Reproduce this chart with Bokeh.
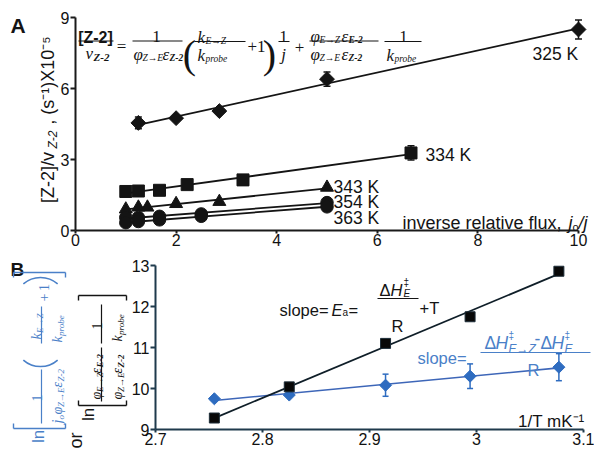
import numpy as np
from math import pi
from bokeh.plotting import figure
from bokeh.models import (Label, Arrow, Range1d, FixedTicker, Whisker, TeeHead,
                          ColumnDataSource, CustomJSTickFormatter)
from bokeh.layouts import column
from bokeh.embed import file_html
from bokeh.resources import INLINE

# ---------------- data: panel A ----------------
x325 = [1.25, 2.0, 2.86, 5.0, 10.0]
y325 = [4.55, 4.75, 5.05, 6.4, 8.5]
e325 = [0.25, 0.0, 0.0, 0.3, 0.4]
x334 = [1.0, 1.25, 1.67, 2.22, 3.33, 6.67]
y334 = [1.65, 1.67, 1.7, 1.94, 2.14, 3.28]
e334 = [0.0, 0.0, 0.0, 0.0, 0.0, 0.3]
x343 = [1.0, 1.25, 1.43, 2.0, 2.86, 5.0]
y343 = [0.9, 0.98, 0.98, 1.13, 1.22, 1.82]
x354 = [1.0, 1.25, 1.67, 2.5, 5.0]
y354 = [0.55, 0.55, 0.6, 0.7, 1.18]
x363 = [1.0, 1.25, 1.67, 2.5, 5.0]
y363 = [0.33, 0.38, 0.45, 0.6, 1.0]
temps_A = ["325 K", "334 K", "343 K", "354 K", "363 K"]
xticks_A = [0, 2, 4, 6, 8, 10]
yticks_A = [0, 3, 6, 9]

# ---------------- data: panel B ----------------
invT = [2.755, 2.825, 2.915, 2.994, 3.077]
lnE = [9.28, 10.04, 11.1, 11.75, 12.86]
lnEZ = [9.75, 9.84, 10.08, 10.3, 10.52]
errEZ = [0.0, 0.0, 0.27, 0.3, 0.33]
xticks_B = [2.7, 2.8, 2.9, 3.0, 3.1]
yticks_B = [9, 10, 11, 12, 13]

SANS = "Liberation Sans"
SERIF = "Liberation Serif"
BLACK = "#141414"
AXA = "#1a1a1a"
AXB = "#1f3a4c"
BLUE_M = "#2e6cc0"
BLUE_L = "#3d66b8"
BLUE_T = "#4a80c8"

W = 594
H = 450
SPLIT = 252          # page row where panel A's canvas ends
HA = SPLIT
HB = H - SPLIT
B_ZERO = 429         # page row of panel B's y = 9 line
B_PX = 41.0          # panel B pixels per y unit


# page-pixel -> data mappings (panel A and panel B)
def ax(xr):
    return (xr - 75) / 50.3


def ay(yr):
    return (230 - yr) / 23.65


def bx(xr):
    return 2.7 + (xr - 155) / 1070


def by(yr):
    return 9 + (B_ZERO - yr) / B_PX


def base_fig(w, h, xr, yr):
    p = figure(width=w, height=h, x_range=Range1d(*xr), y_range=Range1d(*yr),
               output_backend="svg", toolbar_location=None,
               min_border_left=0, min_border_right=0,
               min_border_top=0, min_border_bottom=0)
    p.grid.visible = False
    p.outline_line_color = None
    p.background_fill_color = "white"
    p.border_fill_color = "white"
    return p


def style_axis(axis, color, size, tick_out, standoff):
    axis.axis_line_width = 2
    axis.axis_line_color = color
    axis.major_tick_line_color = color
    axis.major_tick_line_width = 2
    axis.major_tick_out = tick_out
    axis.major_tick_in = 0
    axis.minor_tick_line_color = None
    axis.major_label_text_font = SANS
    axis.major_label_text_font_size = size
    axis.major_label_text_color = "#111111"
    axis.major_label_standoff = standoff


def txt(p, x, y, s, size, font=SANS, style="normal", color=BLACK,
        align="left", baseline="alphabetic", angle=0.0):
    p.add_layout(Label(x=x, y=y, text=s, text_font=font,
                       text_font_size=f"{size:.1f}px",
                       text_font_style=style, text_color=color,
                       text_align=align, text_baseline=baseline, angle=angle))


def seg(p, x0, y0, x1, y1, color, width=1.2):
    p.add_layout(Arrow(end=None, x_start=x0, y_start=y0, x_end=x1, y_end=y1,
                       line_color=color, line_width=width))


def fit_line(p, xs, ys, color, width):
    k, b = np.polyfit(xs, ys, 1)
    x0, x1 = min(xs), max(xs)
    p.line([x0, x1], [k * x0 + b, k * x1 + b], line_color=color, line_width=width)


def whisk(p, xs, ys, es, color, head):
    keep = [i for i, e in enumerate(es) if e > 0]
    src = ColumnDataSource(dict(base=[xs[i] for i in keep],
                                upper=[ys[i] + es[i] for i in keep],
                                lower=[ys[i] - es[i] for i in keep]))
    p.add_layout(Whisker(source=src, base="base", upper="upper", lower="lower",
                         line_color=color, line_width=1.5,
                         upper_head=TeeHead(size=head, line_color=color, line_width=1.5),
                         lower_head=TeeHead(size=head, line_color=color, line_width=1.5)))


# ====================== PANEL A ======================
pA = base_fig(W, HA, (ax(0), ax(W)), (ay(HA), ay(0)))
style_axis(pA.xaxis[0], AXA, "16px", 3, 0)
style_axis(pA.yaxis[0], AXA, "16px", 5, 1)
pA.xaxis.ticker = FixedTicker(ticks=xticks_A)
pA.yaxis.ticker = FixedTicker(ticks=yticks_A)
pA.xaxis.bounds = (0, 10)
pA.yaxis.bounds = (0, 9)
pA.xaxis.fixed_location = 0
pA.yaxis.fixed_location = 0

for xs, ys in [(x325, y325), (x334, y334), (x343, y343), (x354, y354), (x363, y363)]:
    fit_line(pA, xs, ys, BLACK, 1.8)
whisk(pA, x325, y325, e325, BLACK, 7)
whisk(pA, x334, y334, e334, BLACK, 7)
pA.scatter(x325, y325, marker="square", angle=pi / 4, size=10.5, color=BLACK)
pA.scatter(x334, y334, marker="square", size=12, color=BLACK)
pA.scatter(x343, y343, marker="triangle", size=13, color=BLACK)
pA.scatter(x354, y354, marker="circle", size=12.5, color=BLACK)
pA.scatter(x363, y363, marker="circle", size=12.5, color=BLACK)

lab_pos = [(532, 53), (425, 154), (333, 186), (333, 201), (333, 217)]
for t, (xr, yr) in zip(temps_A, lab_pos):
    txt(pA, ax(xr), ay(yr), t, 17.5, baseline="middle")

# x-axis title
txt(pA, ax(566), ay(222), "inverse relative flux, ", 18, align="right")
txt(pA, ax(568), ay(222), "j", 18, style="italic")
txt(pA, ax(572), ay(226), "o", 11)
txt(pA, ax(578), ay(222), "/j", 18, style="italic")

# y-axis title (rotated)
txt(pA, ax(47), ay(177), "[Z-2]/v", 18, align="center", baseline="middle", angle=pi / 2)
txt(pA, ax(52), ay(139), "Z-2", 12, style="italic", align="center", baseline="middle", angle=pi / 2)
txt(pA, ax(47), ay(80), ", (s⁻¹)X10⁻⁵", 18, align="center", baseline="middle", angle=pi / 2)

# panel letter
txt(pA, ax(10), ay(25), "A", 21, style="bold")

# formula
FA = 17
FS = 9.5


def tA(xr, yr, s, size=FA, font=SERIF, style="italic", align="left"):
    txt(pA, ax(xr), ay(yr), s, size, font=font, style=style, align=align)


def lA(x0, x1, yr):
    seg(pA, ax(x0), ay(yr), ax(x1), ay(yr), BLACK, 1.2)


tA(95, 37, "[Z-2]", 16, font=SANS, style="bold", align="center")
lA(78, 113, 40.5)
tA(85, 53, "v")
tA(93, 56, "Z-2", 11, style="bold italic")
tA(121, 46, "=", style="normal", align="center")
tA(156, 36, "1", style="normal", align="center")
lA(132, 182, 40.5)
tA(133, 54, "φ")
tA(142, 57, "Z→E", FS)
tA(162, 54, "ε")
tA(169, 57, "Z-2", FS, style="bold italic")
tA(189, 54, "(", 40, style="normal", align="center")
tA(197, 37, "k")
tA(205, 40, "E→Z", FS)
lA(194, 245, 41)
tA(197, 55, "k")
tA(205, 58, "probe", FS)
tA(247, 46, "+1", style="normal")
tA(269, 54, ")", 40, style="normal", align="center")
tA(283, 36, "1", style="normal", align="center")
lA(278, 289, 41)
tA(283, 54, "j", align="center")
tA(299, 47, "+", style="normal", align="center")
tA(310, 36, "φ")
tA(319, 39, "E→Z", FS)
tA(341, 36, "ε")
tA(348, 39, "E-2", FS, style="bold italic")
lA(309, 378, 40.5)
tA(310, 54, "φ")
tA(319, 57, "Z→E", FS)
tA(341, 54, "ε")
tA(348, 57, "Z-2", FS, style="bold italic")
tA(403, 36, "1", style="normal", align="center")
lA(384, 421, 41)
tA(386, 55, "k")
tA(394, 58, "probe", FS)

# ====================== PANEL B ======================
pB = base_fig(W, HB, (bx(0), bx(W)), (by(H), by(SPLIT)))
style_axis(pB.xaxis[0], AXB, "16px", 3, 0)
style_axis(pB.yaxis[0], AXB, "16px", 5, 1)
pB.xaxis.ticker = FixedTicker(ticks=xticks_B)
pB.yaxis.ticker = FixedTicker(ticks=yticks_B)
pB.xaxis.bounds = (2.7, 3.1)
pB.yaxis.bounds = (9, 13)
pB.xaxis.fixed_location = 9
pB.yaxis.fixed_location = 2.7
pB.xaxis.formatter = CustomJSTickFormatter(code="return (Math.round(tick*10)/10).toString();")

fit_line(pB, invT, lnEZ, BLUE_L, 1.6)
fit_line(pB, invT, lnE, "#0f1e28", 1.8)
whisk(pB, invT, lnEZ, errEZ, BLUE_M, 6)
pB.scatter(invT, lnEZ, marker="square", angle=pi / 4, size=8.5, color=BLUE_M)
pB.scatter(invT, lnE, marker="square", size=10, fill_color="#080808", line_color="#1d2d38")

txt(pB, bx(10), by(269), "B", 19, style="bold")
txt(pB, bx(584), by(421), "1/T mK⁻¹", 17, align="right")


def tB(xr, yr, s, size=16.5, style="normal", color=BLACK, align="left", font=SANS):
    txt(pB, bx(xr), by(yr), s, size, font=font, style=style, color=color, align=align)


def lB(x0, x1, yr, color):
    seg(pB, bx(x0), by(yr), bx(x1), by(yr), color, 1.2)


# black slope annotation
tB(279, 309, "slope=")
tB(331, 309, "E", style="italic")
tB(342, 312, "a", 10)
tB(348, 309, "=")
tB(379, 289, "Δ")
tB(390, 289, "H", style="italic")
tB(403, 282, "‡", 10)
tB(403, 293, "E", 10, style="italic")
lB(377, 418, 298, BLACK)
tB(397, 325, "R", align="center")
tB(419, 307, "+T")

# blue slope annotation
tB(417, 357, "slope=", color=BLUE_T)
lB(480, 590, 352, BLUE_T)
tB(484, 342, "Δ", 17.5, color=BLUE_T)
tB(495, 342, "H", 17.5, style="italic", color=BLUE_T)
tB(508, 335, "‡", 10, color=BLUE_T)
tB(508, 348, "E→Z", 12, style="italic", color=BLUE_T)
tB(534, 338, "-", 17.5, color=BLUE_T)
tB(540, 342, "Δ", 17.5, color=BLUE_T)
tB(551, 342, "H", 17.5, style="italic", color=BLUE_T)
tB(564, 335, "‡", 10, color=BLUE_T)
tB(564, 348, "E", 12, style="italic", color=BLUE_T)
tB(533, 369, "R", color=BLUE_T, align="center")


# rotated y-axis expressions
def rB(xr, yr, s, size=14, font=SERIF, style="italic", color=BLACK,
       align="left", baseline="alphabetic"):
    txt(pB, bx(xr), by(yr), s, size, font=font, style=style, color=color,
        align=align, baseline=baseline, angle=pi / 2)


def vB(xr, y0, y1, color):
    seg(pB, bx(xr), by(y0), bx(xr), by(y1), color, 1.2)


def bracket(x0, x1, yr, dy, color):
    seg(pB, bx(x0), by(yr), bx(x1), by(yr), color, 1.4)
    seg(pB, bx(x0), by(yr), bx(x0), by(yr + dy), color, 1.4)
    seg(pB, bx(x1), by(yr), bx(x1), by(yr + dy), color, 1.4)


def paren(xc, y_edge, opening_up, color):
    r = 26
    if opening_up:   # arc below its centre
        pB.arc(x=[bx(xc)], y=[by(y_edge - r)], radius=r, radius_units="screen",
               start_angle=-pi + 0.85, end_angle=-0.85, line_color=color, line_width=1.6)
    else:            # arc above its centre
        pB.arc(x=[bx(xc)], y=[by(y_edge + r)], radius=r, radius_units="screen",
               start_angle=0.85, end_angle=pi - 0.85, line_color=color, line_width=1.6)


SB = 9
# blue expression
rB(38, 436, "ln", 17, font=SANS, style="normal", color=BLUE_T, align="center", baseline="middle")
bracket(13, 65, 428, -5, BLUE_T)
bracket(13, 65, 272, 5, BLUE_T)
vB(41, 423, 369, BLUE_T)
rB(36, 401, "1", style="normal", color=BLUE_T)
rB(57, 423, "j", color=BLUE_T)
rB(60, 419, "o", SB, color=BLUE_T)
rB(57, 414, "φ", color=BLUE_T)
rB(60, 406.5, "Z→E", SB, color=BLUE_T)
rB(57, 387, "ε", color=BLUE_T)
rB(60, 381, "Z-2", SB, color=BLUE_T)
paren(40, 366, True, BLUE_T)
vB(41, 343, 306, BLUE_T)
rB(36, 339, "k", color=BLUE_T)
rB(39, 332.5, "E→Z", SB, color=BLUE_T)
rB(57, 342, "k", color=BLUE_T)
rB(60, 335.5, "probe", SB, color=BLUE_T)
rB(43, 297, "+", style="normal", color=BLUE_T, align="center", baseline="middle")
rB(43, 287, "1", style="normal", color=BLUE_T, align="center", baseline="middle")
paren(40, 277, False, BLUE_T)

# "or"
rB(75, 440, "or", 18, font=SANS, style="normal", align="center", baseline="middle")

# black expression
rB(88, 414, "ln", 17, font=SANS, style="normal", align="center", baseline="middle")
bracket(78, 126, 405, -5, BLACK)
bracket(78, 126, 295, 5, BLACK)
vB(101, 401, 347, BLACK)
rB(96, 399, "φ")
rB(99, 391.5, "E→Z", SB)
rB(96, 373, "ε")
rB(99, 367, "E-2", SB, style="bold italic")
rB(117, 399, "φ")
rB(120, 391.5, "Z→E", SB)
rB(117, 373, "ε")
rB(120, 367, "Z-2", SB, style="bold italic")
vB(101, 343, 304, BLACK)
rB(96, 329, "1", style="normal")
rB(117, 341, "k")
rB(120, 334.5, "probe", SB)

layout = column(pA, pB)
open("out.html", "w").write(file_html(layout, INLINE))
